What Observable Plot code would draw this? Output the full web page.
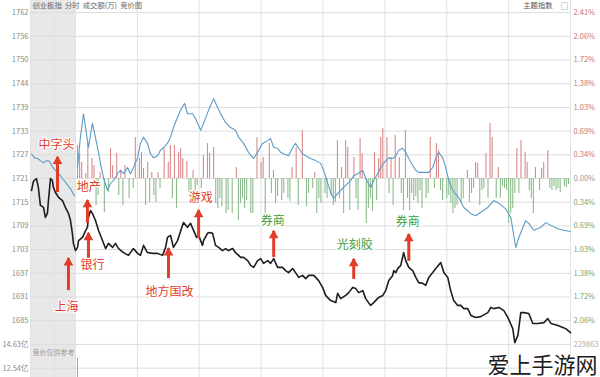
<!DOCTYPE html>
<html><head><meta charset="utf-8">
<script src="https://cdn.jsdelivr.net/npm/d3@7"></script>
<script src="https://cdn.jsdelivr.net/npm/@observablehq/plot@0.6"></script>
<style>
html,body{margin:0;padding:0;background:#fff;}
#chart svg{display:block;}
</style>
</head><body><div id="chart"></div>
<script>
// ---------- data ----------
const basePrice = 1721.2;          // previous close (0.00%)
const rowStep = 0.344;             // % per grid row
const rowIndex = [7,6,5,4,3,2,1,0,-1,-2,-3,-4,-5,-6,-7,-8];
const leftLabels = ["1762","1756","1750","1744","1739","1733","1727","1721","1715","1709","1703","1697","1691","1685","14.63亿","12.54亿"];
const rightLabels = ["2.41%","2.06%","1.72%","1.38%","1.03%","0.69%","0.34%","0.00%","0.34%","0.69%","1.03%","1.38%","1.72%","2.06%","229863",""];
const timeGrid = [-21.8, -10, 0, 30, 60, 90, 120, 150, 180, 210, 240];
const auctionSpan = [-21.8, 0];

// 创业板指 (minute, price); negative minutes = call auction
const indexLine = [[-21.3,1718.2],[-20.4,1720.5],[-18.9,1721.2],[-18.0,1719.0],[-17.0,1714.5],[-15.5,1714.0],[-14.6,1711.5],[-13.6,1712.5],[-13.1,1715.7],[-12.1,1721.2],[-11.2,1720.7],[-10.7,1719.0],[-9.7,1717.7],[-8.2,1716.5],[-6.3,1715.7],[-4.9,1714.0],[-3.4,1712.5],[-2.4,1710.7],[-1.5,1707.5],[-1.0,1705.0],[0,1703.2],
[1.0,1704.0],[1.5,1705.7],[3.4,1706.5],[4.9,1708.2],[5.8,1709.0],[6.3,1711.5],[7.3,1713.2],[8.2,1712.5],[9.7,1710.7],[11.2,1708.2],[13.1,1705.7],[14.6,1703.7],[16.0,1705.0],[18.0,1704.0],[19.4,1705.0],[20.9,1703.7],[23.3,1702.7],[25.7,1702.0],[28.1,1703.7],[30.1,1702.5],[31.5,1702.0],[33.0,1704.5],[34.9,1702.7],[37.4,1702.5],[39.8,1702.5],[42.2,1702.0],[43.7,1704.0],[44.6,1706.5],[46.1,1707.0],[47.5,1704.0],[49.5,1705.7],[51.9,1709.5],[52.4,1710.2],[54.3,1709.0],[55.8,1710.0],[57.3,1708.2],[58.7,1706.5],[59.7,1707.0],[61.6,1704.5],[62.1,1705.7],[64.0,1707.5],[65.0,1707.7],[66.5,1707.5],[67.9,1704.5],[69.4,1704.0],[71.3,1703.2],[72.8,1703.7],[74.2,1703.2],[76.2,1703.7],[77.6,1702.7],[79.1,1702.0],[80.1,1701.5],[81.5,1701.5],[83.5,1700.7],[84.9,1699.5],[86.4,1699.0],[88.3,1700.7],[89.8,1701.2],[91.2,1700.0],[93.2,1700.7],[94.6,1700.0],[96.1,1701.2],[98.0,1699.0],[100.4,1699.0],[101.9,1698.2],[103.3,1697.7],[105.3,1698.7],[106.7,1697.7],[108.2,1696.5],[110.1,1697.0],[111.6,1696.2],[113.1,1697.0],[115.5,1697.0],[117.9,1695.7],[119.8,1694.0],[121.3,1692.0],[123.7,1690.7],[126.2,1690.2],[127.1,1692.5],[128.6,1691.2],[131.0,1692.0],[132.5,1692.7],[134.4,1694.0],[135.9,1693.7],[137.3,1692.7],[139.3,1693.2],[140.7,1691.2],[143.1,1689.5],[144.6,1690.2],[147.0,1691.5],[149.0,1692.0],[150.4,1693.2],[151.9,1695.7],[153.8,1697.0],[154.3,1698.2],[155.3,1697.7],[156.2,1698.7],[157.7,1699.5],[159.1,1702.7],[160.1,1700.7],[161.6,1699.0],[163.5,1698.2],[165.0,1696.5],[166.4,1695.2],[168.4,1695.0],[169.8,1694.5],[171.3,1696.5],[173.2,1697.7],[174.7,1698.7],[177.1,1700.2],[178.6,1697.7],[180.5,1696.5],[181.9,1693.2],[183.4,1690.7],[185.3,1689.5],[186.8,1689.5],[188.3,1688.7],[190.2,1688.7],[191.7,1687.0],[194.1,1686.5],[196.5,1686.7],[199.9,1687.7],[201.4,1689.0],[202.8,1688.7],[205.3,1689.0],[207.7,1688.2],[209.6,1686.5],[212.0,1683.7],[213.0,1680.2],[214.5,1682.0],[215.9,1687.7],[217.4,1687.7],[219.8,1687.5],[221.7,1685.0],[224.2,1685.0],[227.1,1685.2],[229.0,1686.2],[230.5,1685.0],[233.9,1684.5],[236.3,1684.0],[237.7,1683.7],[240,1682.7]];

// 主题指数 (minute, % change)
const themeAuction = [[-21.3,0.36],[-19.9,0.30],[-18.4,0.29],[-17.0,0.26],[-15.5,0.23],[-14.1,0.26],[-12.6,0.25],[-11.2,0.17],[-9.7,0.12],[-8.2,0.07],[-6.3,0.00],[-4.4,-0.07],[-2.4,-0.15],[-0.5,-0.25]];
const themeLine = [[1.0,0.16],[2.4,0.60],[3.9,0.94],[4.9,0.74],[6.3,0.45],[8.2,0.80],[8.7,0.74],[10.7,0.45],[12.1,0.22],[13.6,0.01],[15.5,-0.17],[17.0,-0.07],[18.4,-0.03],[20.4,0.07],[21.8,0.12],[23.3,0.07],[25.2,0.16],[26.7,0.07],[28.1,0.16],[30.1,0.30],[31.5,0.51],[33.0,0.60],[34.9,0.51],[36.4,0.36],[37.8,0.30],[39.8,0.33],[41.2,0.41],[42.7,0.45],[44.6,0.51],[46.1,0.60],[47.5,0.74],[49.5,0.89],[50.9,0.99],[52.9,1.09],[54.3,0.94],[56.8,0.94],[58.2,0.87],[60.7,0.70],[62.1,0.80],[64.5,0.99],[67.0,1.16],[68.9,1.03],[70.4,0.94],[72.8,0.81],[75.2,0.74],[77.6,0.70],[79.1,0.60],[81.5,0.51],[83.9,0.38],[86.4,0.29],[88.3,0.38],[90.7,0.51],[93.2,0.55],[94.6,0.58],[96.1,0.45],[98.0,0.44],[99.5,0.38],[100.9,0.36],[103.3,0.33],[105.3,0.45],[106.7,0.51],[108.2,0.44],[110.1,0.36],[111.6,0.33],[114.0,0.29],[116.4,0.26],[118.9,0.22],[120.3,0.12],[122.3,-0.07],[123.7,-0.20],[125.2,-0.29],[127.1,-0.22],[128.6,-0.17],[130.0,-0.13],[132.0,-0.07],[133.4,-0.03],[134.9,0.04],[136.8,0.07],[139.3,0.12],[140.7,0.00],[143.1,-0.13],[144.6,-0.03],[146.5,0.07],[148.0,0.16],[150.4,0.26],[151.9,0.30],[153.8,0.29],[155.3,0.33],[156.7,0.41],[158.7,0.44],[160.1,0.38],[161.6,0.29],[163.5,0.19],[165.0,0.12],[166.4,0.09],[168.8,0.09],[171.3,0.09],[173.2,0.16],[174.7,0.30],[176.1,0.38],[178.1,0.30],[179.5,0.16],[181.0,-0.03],[182.9,-0.17],[185.8,-0.28],[188.3,-0.42],[191.7,-0.51],[194.1,-0.54],[196.5,-0.49],[199.9,-0.42],[202.8,-0.32],[205.3,-0.36],[208.6,-0.44],[211.1,-0.57],[212.5,-0.83],[213.5,-1.00],[214.9,-0.86],[216.9,-0.71],[218.3,-0.61],[219.8,-0.65],[222.2,-0.75],[225.6,-0.71],[228.0,-0.64],[230.5,-0.68],[233.9,-0.73],[236.8,-0.75],[240,-0.77]];

// per-minute net flow bars (minute, flow units); + red, - green
const flowUnit = 0.0145; // % of axis per flow unit
const flowBars = [[1,33],[2,25],[3,16],[5,5],[6,35],[8,20],[9,13],[10,-27],[11,-17],[12,6],[14,-34],[16,-14],[17,30],[18,13],[20,25],[21,-17],[22,8],[23,-27],[24,13],[26,-20],[28,-10],[29,41],[31,20],[32,26],[33,10],[34,-27],[35,16],[36,-24],[37,6],[38,-17],[39,-24],[40,6],[41,-10],[43,30],[45,16],[46,33],[47,-20],[48,33],[49,-30],[50,26],[51,30],[52,20],[54,17],[55,-14],[56,-12],[57,8],[58,-17],[59,-7],[61,-10],[62,23],[64,35],[65,25],[67,31],[68,-25],[69,-30],[70,-20],[71,-28],[73,-35],[74,-32],[76,-35],[78,11],[79,-42],[80,-25],[81,-20],[82,-30],[83,-22],[85,-35],[86,-35],[88,41],[90,16],[91,21],[92,-40],[94,35],[95,-15],[96,8],[97,-25],[98,-18],[100,-22],[101,-15],[103,-20],[104,-23],[105,11],[107,31],[108,-27],[110,48],[112,-28],[113,-15],[115,-10],[116,6],[117,-35],[118,-20],[119,-25],[121,-15],[122,-20],[124,-18],[125,-27],[126,-24],[127,38],[128,-20],[129,11],[130,-35],[131,38],[132,31],[133,-32],[135,21],[136,-20],[137,-32],[138,40],[139,25],[141,-45],[142,-30],[143,-20],[144,-33],[145,26],[146,-22],[147,20],[148,41],[149,50],[151,41],[152,-15],[153,21],[154,-27],[155,43],[157,21],[158,-15],[159,-32],[160,48],[161,-20],[162,-32],[163,-15],[164,-22],[165,-18],[166,-25],[167,-12],[168,-30],[170,-20],[171,-15],[172,41],[174,-10],[175,35],[176,28],[177,-12],[178,-22],[180,-20],[181,-17],[182,-25],[183,-35],[184,-30],[185,-27],[187,-25],[188,-20],[190,8],[191,-24],[192,-15],[193,-10],[194,16],[195,15],[196,-27],[197,-12],[198,-10],[199,25],[200,-20],[201,55],[202,41],[204,-20],[205,11],[206,-20],[207,-8],[208,-10],[209,-12],[210,-45],[211,-35],[212,-30],[213,-15],[214,30],[215,-15],[216,38],[218,26],[219,16],[220,-12],[221,-20],[222,-35],[223,11],[225,-12],[226,10],[227,16],[229,28],[230,-10],[231,-12],[232,-8],[233,-12],[234,-10],[235,-14],[237,-8],[238,-9],[239,-6]];

// opening auction turnover bar (亿)
const auctionAmount = [[1, 13.4]];

// annotations
const noteText = ["中字头","地产","银行","上海","地方国改","游戏","券商","光刻胶","券商"];
const noteTone = ["up","up","up","up","up","up","down","down","down"];
const noteMin = [-8.7, 5.8, 6.3, -3.4, 45.1, 59.7, 96.1, 134.9, 161.6];
const noteTip = [1726.5,1715.7,1707.5,1701.2,1703.7,1713.2,1708.0,1701.0,1707.2];
const noteTail = [1717.7,1710.0,1700.7,1693.2,1696.2,1706.2,1701.5,1696.0,1700.5];
const noteLabelMin = [-9.2, 6.5, 8.2, -4.4, 45.6, 60.7, 95.6, 135.4, 161.1];
const noteLabelPrice = [1729.5,1719.0,1699.5,1689.0,1692.7,1716.2,1710.5,1704.5,1710.2];

const headerText = "创业板指  分时  成交额(万)  竞价图";
const themeText = "主题指数";
const auctionNote = "竞价仅供参考";
const watermark = "爱上手游网";

// ---------- build ----------
const pct = p => (p / basePrice - 1) * 100;
const RED = "#e23d28", GREEN = "#3f9f3f";
const rows = rowIndex.map((k, i) => ({v: k * rowStep, left: leftLabels[i], right: rightLabels[i], k}));
const idx = indexLine.map(([t, p]) => ({t, v: pct(p)}));
const thA = themeAuction.map(([t, v]) => ({t, v}));
const thM = themeLine.map(([t, v]) => ({t, v}));
const flows = flowBars.map(([t, f]) => ({t, v: f * flowUnit}));
const ampToPct = a => (-8 + (a - 12.54) / (14.63 - 12.54)) * rowStep;
const vol = auctionAmount.map(([t, a]) => ({t, v: ampToPct(a)}));
const notes = noteText.map((s, i) => ({
  s, tone: noteTone[i], t: noteMin[i], tip: pct(noteTip[i]), tail: pct(noteTail[i]),
  lt: noteLabelMin[i], lv: pct(noteLabelPrice[i])
}));
const yMin = -2.888, yMax = 2.584;

const chart = Plot.plot({
  width: 600, height: 377,
  marginLeft: 30, marginRight: 30, marginTop: 0, marginBottom: 0,
  x: {domain: [-21.8, 240], axis: null},
  y: {domain: [yMin, yMax], axis: null},
  style: {fontFamily: "'Noto Sans CJK SC', 'Noto Sans', sans-serif", background: "#fff"},
  marks: [
    Plot.rect([auctionSpan], {x1: d => d[0], x2: d => d[1], fill: "#e8e8e8"}),
    Plot.ruleY(rows, {y: "v", stroke: "#dcdcdc", strokeWidth: 1}),
    Plot.ruleX(timeGrid, {stroke: "#e2e2e2", strokeWidth: 1}),
    Plot.ruleX(flows.filter(d => d.v > 0), {x: "t", y1: 0, y2: "v", stroke: "#d98a8a", strokeWidth: 1.1}),
    Plot.ruleX(flows.filter(d => d.v < 0), {x: "t", y1: 0, y2: "v", stroke: "#8cbc8c", strokeWidth: 1.1}),
    Plot.ruleX(vol, {x: "t", y1: yMin, y2: "v", stroke: "#d98a8a", strokeWidth: 1}),
    Plot.line(thA, {x: "t", y: "v", stroke: "#5b9cc7", strokeWidth: 1.1}),
    Plot.line(thM, {x: "t", y: "v", stroke: "#5b9cc7", strokeWidth: 1.1}),
    Plot.line(idx, {x: "t", y: "v", stroke: "#1e1e1e", strokeWidth: 1.6}),
    // arrows
    Plot.ruleX(notes, {x: "t", y1: "tail", y2: "tip", stroke: RED, strokeWidth: 3}),
    Plot.dot(notes, {x: "t", y: "tip", symbol: "triangle", r: 3.6, fill: RED, stroke: "none", dy: 4}),
    Plot.text(notes, {x: "lt", y: "lv", text: "s", fill: d => d.tone === "up" ? RED : GREEN,
      stroke: "white", strokeWidth: 2.5, fontSize: 12}),
    // axis labels
    Plot.text(rows, {y: "v", text: "left", frameAnchor: "left", textAnchor: "end", dx: -2, fontSize: 7.5, fill: "#8a8a8a"}),
    Plot.text(rows, {y: "v", text: "right", frameAnchor: "right", textAnchor: "start", dx: 3, fontSize: 7.5,
      fill: d => d.k > 0 ? "#c77474" : d.k === 0 ? "#999" : d.k >= -6 ? "#6fa86f" : "#b0b0b0"}),
    // header / notes
    Plot.text([headerText], {frameAnchor: "top-left", dx: 2, dy: 2, lineAnchor: "top", textAnchor: "start", fontSize: 7.3, fill: "#666"}),
    Plot.text([themeText], {frameAnchor: "top-right", dx: -18, dy: 2, lineAnchor: "top", textAnchor: "end", fontSize: 7.3, fill: "#555"}),
    Plot.text(["□"], {frameAnchor: "top-right", dx: -2, dy: 3, lineAnchor: "top", textAnchor: "end", fontSize: 8, fill: "#666"}),
    Plot.text([auctionNote], {y: rows.find(r => r.k === -7).v, frameAnchor: "left", dx: 2, dy: 8, textAnchor: "start", fontSize: 7, fill: "#999"}),
    Plot.text([watermark], {frameAnchor: "bottom-right", dx: 27, dy: -5, textAnchor: "end", lineAnchor: "bottom",
      fontSize: 22, fill: "#1b1b1b", stroke: "white", strokeWidth: 2})
  ]
});
document.getElementById("chart").appendChild(chart);
</script>
</body></html>
